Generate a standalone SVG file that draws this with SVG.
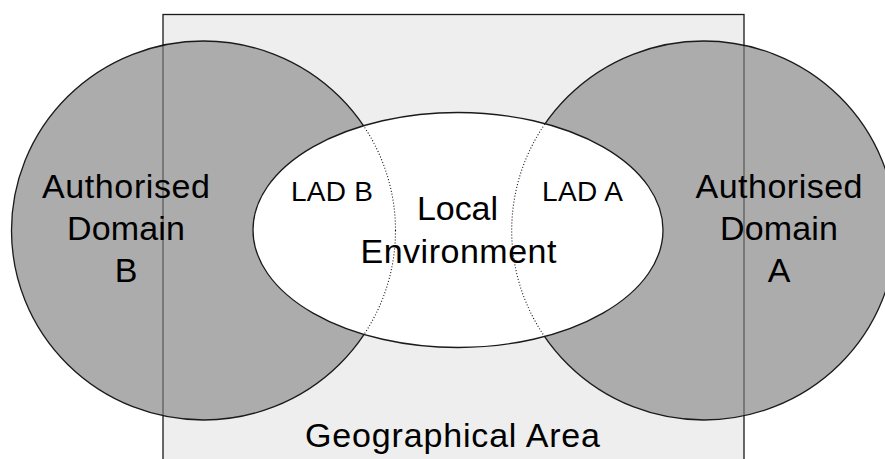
<svg xmlns="http://www.w3.org/2000/svg" width="885" height="459" viewBox="0 0 885 459">
  <defs>
    <clipPath id="envClip">
      <ellipse cx="458" cy="230" rx="205" ry="117.5"/>
    </clipPath>
    <style>
      .lbl { font-family: "Liberation Sans", Arial, sans-serif; fill: #000; text-anchor: middle; }
      .big { font-size: 34px; }
      .small { font-size: 28px; }
      .solid { stroke: #1a1a1a; stroke-width: 1.3; }
      .dot { fill: none; stroke: #111; stroke-width: 1.1; stroke-dasharray: 1 2; }
      .vdot { stroke: #000; stroke-width: 1.2; stroke-dasharray: 1 1; }
    </style>
  </defs>

  <rect width="885" height="459" fill="#ffffff"/>

  <g id="geographical-area">
    <rect x="163" y="14.5" width="581" height="460" fill="#eeeeee" class="solid"/>
  </g>

  <g id="authorised-domain-b">
    <ellipse cx="203.5" cy="230.5" rx="192" ry="189.5" fill="#acacac" class="solid"/>
  </g>
  <g id="authorised-domain-a">
    <ellipse cx="703.7" cy="230.5" rx="192" ry="189.5" fill="#acacac" class="solid"/>
  </g>

  <g id="area-edges-dotted">
    <line x1="163" y1="45.5" x2="163" y2="415.5" class="vdot"/>
    <line x1="744" y1="45.5" x2="744" y2="415.5" class="vdot"/>
  </g>

  <g id="local-environment">
    <ellipse cx="458" cy="230" rx="205" ry="117.5" fill="#ffffff" class="solid"/>
  </g>

  <g id="lad-boundaries" clip-path="url(#envClip)">
    <ellipse cx="203.5" cy="230.5" rx="192" ry="189.5" class="dot"/>
    <ellipse cx="703.7" cy="230.5" rx="192" ry="189.5" class="dot"/>
  </g>

  <g id="labels">
    <text class="lbl big" x="126" y="198" textLength="168" lengthAdjust="spacing">Authorised</text>
    <text class="lbl big" x="126" y="240" textLength="118" lengthAdjust="spacing">Domain</text>
    <text class="lbl big" x="126" y="282">B</text>

    <text class="lbl big" x="779" y="198" textLength="167" lengthAdjust="spacing">Authorised</text>
    <text class="lbl big" x="779" y="240" textLength="118" lengthAdjust="spacing">Domain</text>
    <text class="lbl big" x="779" y="282">A</text>

    <text class="lbl small" x="332" y="201" textLength="82" lengthAdjust="spacing">LAD B</text>
    <text class="lbl small" x="582.5" y="201" textLength="81" lengthAdjust="spacing">LAD A</text>

    <text class="lbl big" x="457.5" y="220" textLength="81" lengthAdjust="spacing">Local</text>
    <text class="lbl big" x="458.5" y="263" textLength="196" lengthAdjust="spacing">Environment</text>

    <text class="lbl big" x="452.5" y="447" textLength="295" lengthAdjust="spacing">Geographical Area</text>
  </g>
</svg>
